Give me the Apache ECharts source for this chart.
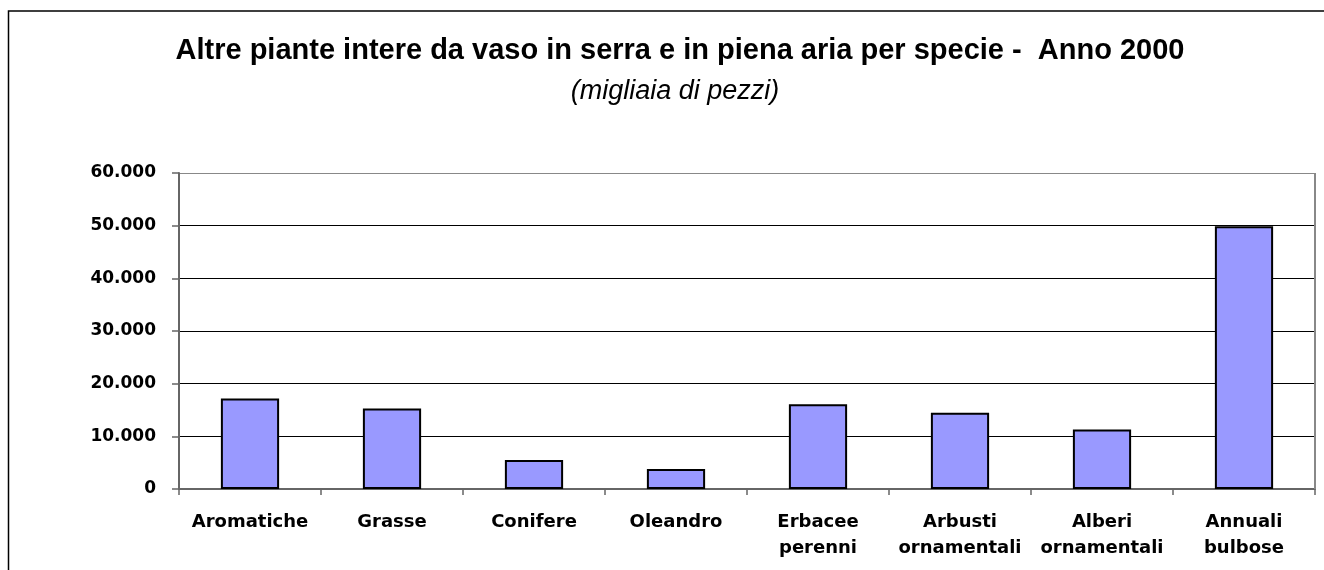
<!DOCTYPE html>
<html>
<head>
<meta charset="utf-8">
<script src="https://cdn.jsdelivr.net/npm/echarts@6/dist/echarts.min.js"></script>
<style>
  html, body { margin: 0; padding: 0; background: #fff; }
  #chart { width: 1324px; height: 570px; }
</style>
</head>
<body>
<div id="chart"></div>
<script>
const titleText = 'Altre piante intere da vaso in serra e in piena aria per specie -  Anno 2000'
const subtitleText = '(migliaia di pezzi)'

const categories = ['Aromatiche', 'Grasse', 'Conifere', 'Oleandro', 'Erbacee\nperenni', 'Arbusti\nornamentali', 'Alberi\nornamentali', 'Annuali\nbulbose']
const values = [17200, 15300, 5500, 3800, 16100, 14500, 11300, 49900]

const yMin = 0
const yMax = 60000
const yStep = 10000

// 12345 -> "12.345"
function fmtThousands(v) {
  return String(v).replace(/\B(?=(\d{3})+(?!\d))/g, '.')
}

const chart = echarts.init(document.getElementById('chart'))
chart.setOption({
  animation: false,
  backgroundColor: '#fff',
  title: [
    {
      text: titleText,
      left: 675,
      top: 31,
      textAlign: 'center',
      textStyle: { fontFamily: 'Liberation Sans', fontWeight: 'bold', fontSize: 29, color: '#000' }
    },
    {
      text: subtitleText,
      left: 670,
      top: 73,
      textAlign: 'center',
      textStyle: { fontFamily: 'Liberation Sans', fontStyle: 'italic', fontWeight: 'normal', fontSize: 27, color: '#000' }
    }
  ],
  graphic: [
    {
      type: 'rect',
      shape: { x: 8.5, y: 11, width: 1400, height: 700 },
      style: { fill: 'none', stroke: '#000', lineWidth: 1.5 },
      silent: true
    }
  ],
  grid: { left: 179, right: 9, top: 173, bottom: 81, outerBoundsMode: 'none', show: false },
  xAxis: {
    type: 'category',
    data: categories,
    axisLine: { lineStyle: { color: '#666', width: 2 } },
    axisTick: { show: true, alignWithLabel: false, length: 6, lineStyle: { color: '#666', width: 1.5 } },
    axisLabel: {
      interval: 0,
      margin: 20,
      fontFamily: 'DejaVu Sans',
      fontWeight: 'bold',
      fontSize: 18,
      lineHeight: 26,
      color: '#000'
    }
  },
  yAxis: {
    type: 'value',
    min: yMin,
    max: yMax,
    interval: yStep,
    axisLine: { show: true, lineStyle: { color: '#666', width: 2 } },
    axisTick: { show: true, length: 7, lineStyle: { color: '#666', width: 1.5 } },
    splitLine: {
      show: true,
      lineStyle: { color: ['#000', '#000', '#000', '#000', '#000', '#000', '#888'], width: 1 }
    },
    axisLabel: {
      margin: 23,
      fontFamily: 'DejaVu Sans',
      fontWeight: 'bold',
      fontSize: 17,
      color: '#000',
      formatter: fmtThousands
    }
  },
  series: [
    {
      type: 'bar',
      data: values,
      barWidth: '41%',
      itemStyle: { color: '#9999ff', borderColor: '#000', borderWidth: 2 }
    },
    {
      // right border of the plot area
      type: 'line',
      data: [],
      markLine: {
        silent: true,
        symbol: 'none',
        label: { show: false },
        lineStyle: { color: '#888', width: 2, type: 'solid' },
        data: [[{ coord: [categories[categories.length - 1], yMin], x: 1315 }, { coord: [categories[categories.length - 1], yMax], x: 1315 }]]
      }
    }
  ]
})
</script>
</body>
</html>
